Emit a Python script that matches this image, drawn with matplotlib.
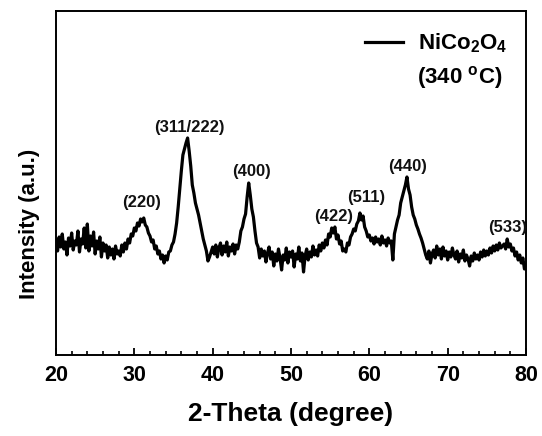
import numpy as np
import matplotlib
matplotlib.use("Agg")
import matplotlib.pyplot as plt
from matplotlib.ticker import MultipleLocator

plt.rcParams['font.family'] = ['Liberation Sans', 'DejaVu Sans']
plt.rcParams['mathtext.fontset'] = 'custom'
plt.rcParams['mathtext.rm'] = 'Liberation Sans:bold'
plt.rcParams['mathtext.bf'] = 'Liberation Sans:bold'
plt.rcParams['mathtext.it'] = 'Liberation Sans:bold'

theta_start, theta_end = 20.0, 80.0
intensity = [
    115, 104, 118, 108, 121, 106, 113, 100, 117, 109,
    122, 105, 114, 110, 124, 103, 116, 111, 127, 107,
    131, 104, 119, 109, 123, 101, 114, 106, 118, 98,
    112, 104, 110, 97, 108, 100, 106, 96, 109, 101,
    104, 99, 110, 103, 112, 106, 116, 112, 121, 119,
    127,
    124, 132, 129, 136, 133, 137, 130, 128, 122, 119,
    113, 115, 106, 109, 101, 104, 96, 100, 92, 99,
    95, 103, 104, 110, 113, 121, 132, 148, 166, 184,
    200, 206, 212, 217, 204, 189, 170, 162, 152, 146,
    140, 132, 124, 116, 110, 104, 94, 98, 103, 108,
    101, 110, 98, 107, 112, 100, 109, 103, 113, 99,
    108, 104, 111, 101, 110, 106, 113, 124, 128, 136,
    141, 158, 172, 160, 146, 138, 124, 112, 108, 97,
    106, 99, 104, 93, 102, 108, 96, 103, 89, 101,
    94, 106, 97, 85, 100, 95, 107, 92, 103, 98,
    104, 88, 101, 96, 108, 94, 102, 83, 99, 106,
    95, 103, 98, 109, 100, 105, 99, 110, 104, 112,
    107, 115, 110, 121, 118, 127, 122, 128, 116, 120,
    111, 114, 104, 106, 103, 112, 110, 118, 121, 126,
    124, 131, 134, 142, 135, 139, 128, 124, 118, 120,
    114, 117, 111, 118, 113, 116, 110, 119, 112, 115,
    109, 117, 112, 114, 95, 121, 128, 135, 140, 152,
    158, 164, 170, 178, 166, 160, 148, 140, 136, 130,
    126, 121, 117, 112, 106, 100, 96, 104, 92, 101,
    105, 97, 109, 100, 106, 96, 108, 99, 104, 95,
    103, 98, 107, 100, 96, 104, 93, 101, 97, 105,
    94, 100, 96, 89, 99, 94, 102, 96, 100, 95,
    103, 98, 105, 99, 104, 100, 107, 102, 109, 104,
    110, 105, 112, 107, 109, 111, 106, 116, 108, 111,
    104, 107, 99, 103, 95, 100, 92, 97, 86, 90,
]
two_theta = np.linspace(theta_start, theta_end, len(intensity))

peak_labels = ['(220)', '(311/222)', '(400)', '(422)', '(511)', '(440)', '(533)']
peak_pos = [30.9, 37.0, 44.9, 55.5, 59.6, 64.9, 77.6]
peak_label_int = [152, 227, 183, 138, 157, 188, 127]

fig = plt.figure(figsize=(5.42, 4.36), dpi=100)
ax = fig.add_axes([0.1033, 0.1858, 0.8672, 0.7890])
ax.plot(two_theta, intensity, color='black', lw=2.3,
        label=r'NiCo$_\mathbf{2}$O$_\mathbf{4}$')

for lab, px, py in zip(peak_labels, peak_pos, peak_label_int):
    ax.text(px, py, lab, ha='center', va='center', fontsize=12,
            fontweight='bold', color='#111111')

ax.set_xlim(20, 80)
ax.set_ylim(0, 344)
ax.xaxis.set_major_locator(MultipleLocator(10))
ax.xaxis.set_minor_locator(MultipleLocator(2))
ax.set_yticks([])
ax.tick_params(axis='x', which='major', direction='in', length=5, width=1.3,
               labelsize=15.5, pad=7)
ax.tick_params(axis='x', which='minor', direction='in', length=3, width=1.2)
for lbl in ax.get_xticklabels():
    lbl.set_fontweight('bold')
for s in ax.spines.values():
    s.set_linewidth(1.4)

ax.set_xlabel('2-Theta (degree)', fontsize=19, fontweight='bold', labelpad=12)
ax.set_ylabel('Intensity (a.u.)', fontsize=16, fontweight='bold')
ax.yaxis.set_label_coords(-0.034, 0.38)

leg = ax.legend(loc='center left', frameon=False,
                handlelength=1.7, handletextpad=0.7, borderpad=0, borderaxespad=0,
                bbox_to_anchor=(0.657, 0.905), prop={'weight': 'bold', 'size': 16})
ax.text(0.768, 0.808, '(340 $^\\mathbf{o}$C)', transform=ax.transAxes,
        fontsize=16, fontweight='bold', ha='left', va='center')

fig.savefig('out.png', dpi=100)
